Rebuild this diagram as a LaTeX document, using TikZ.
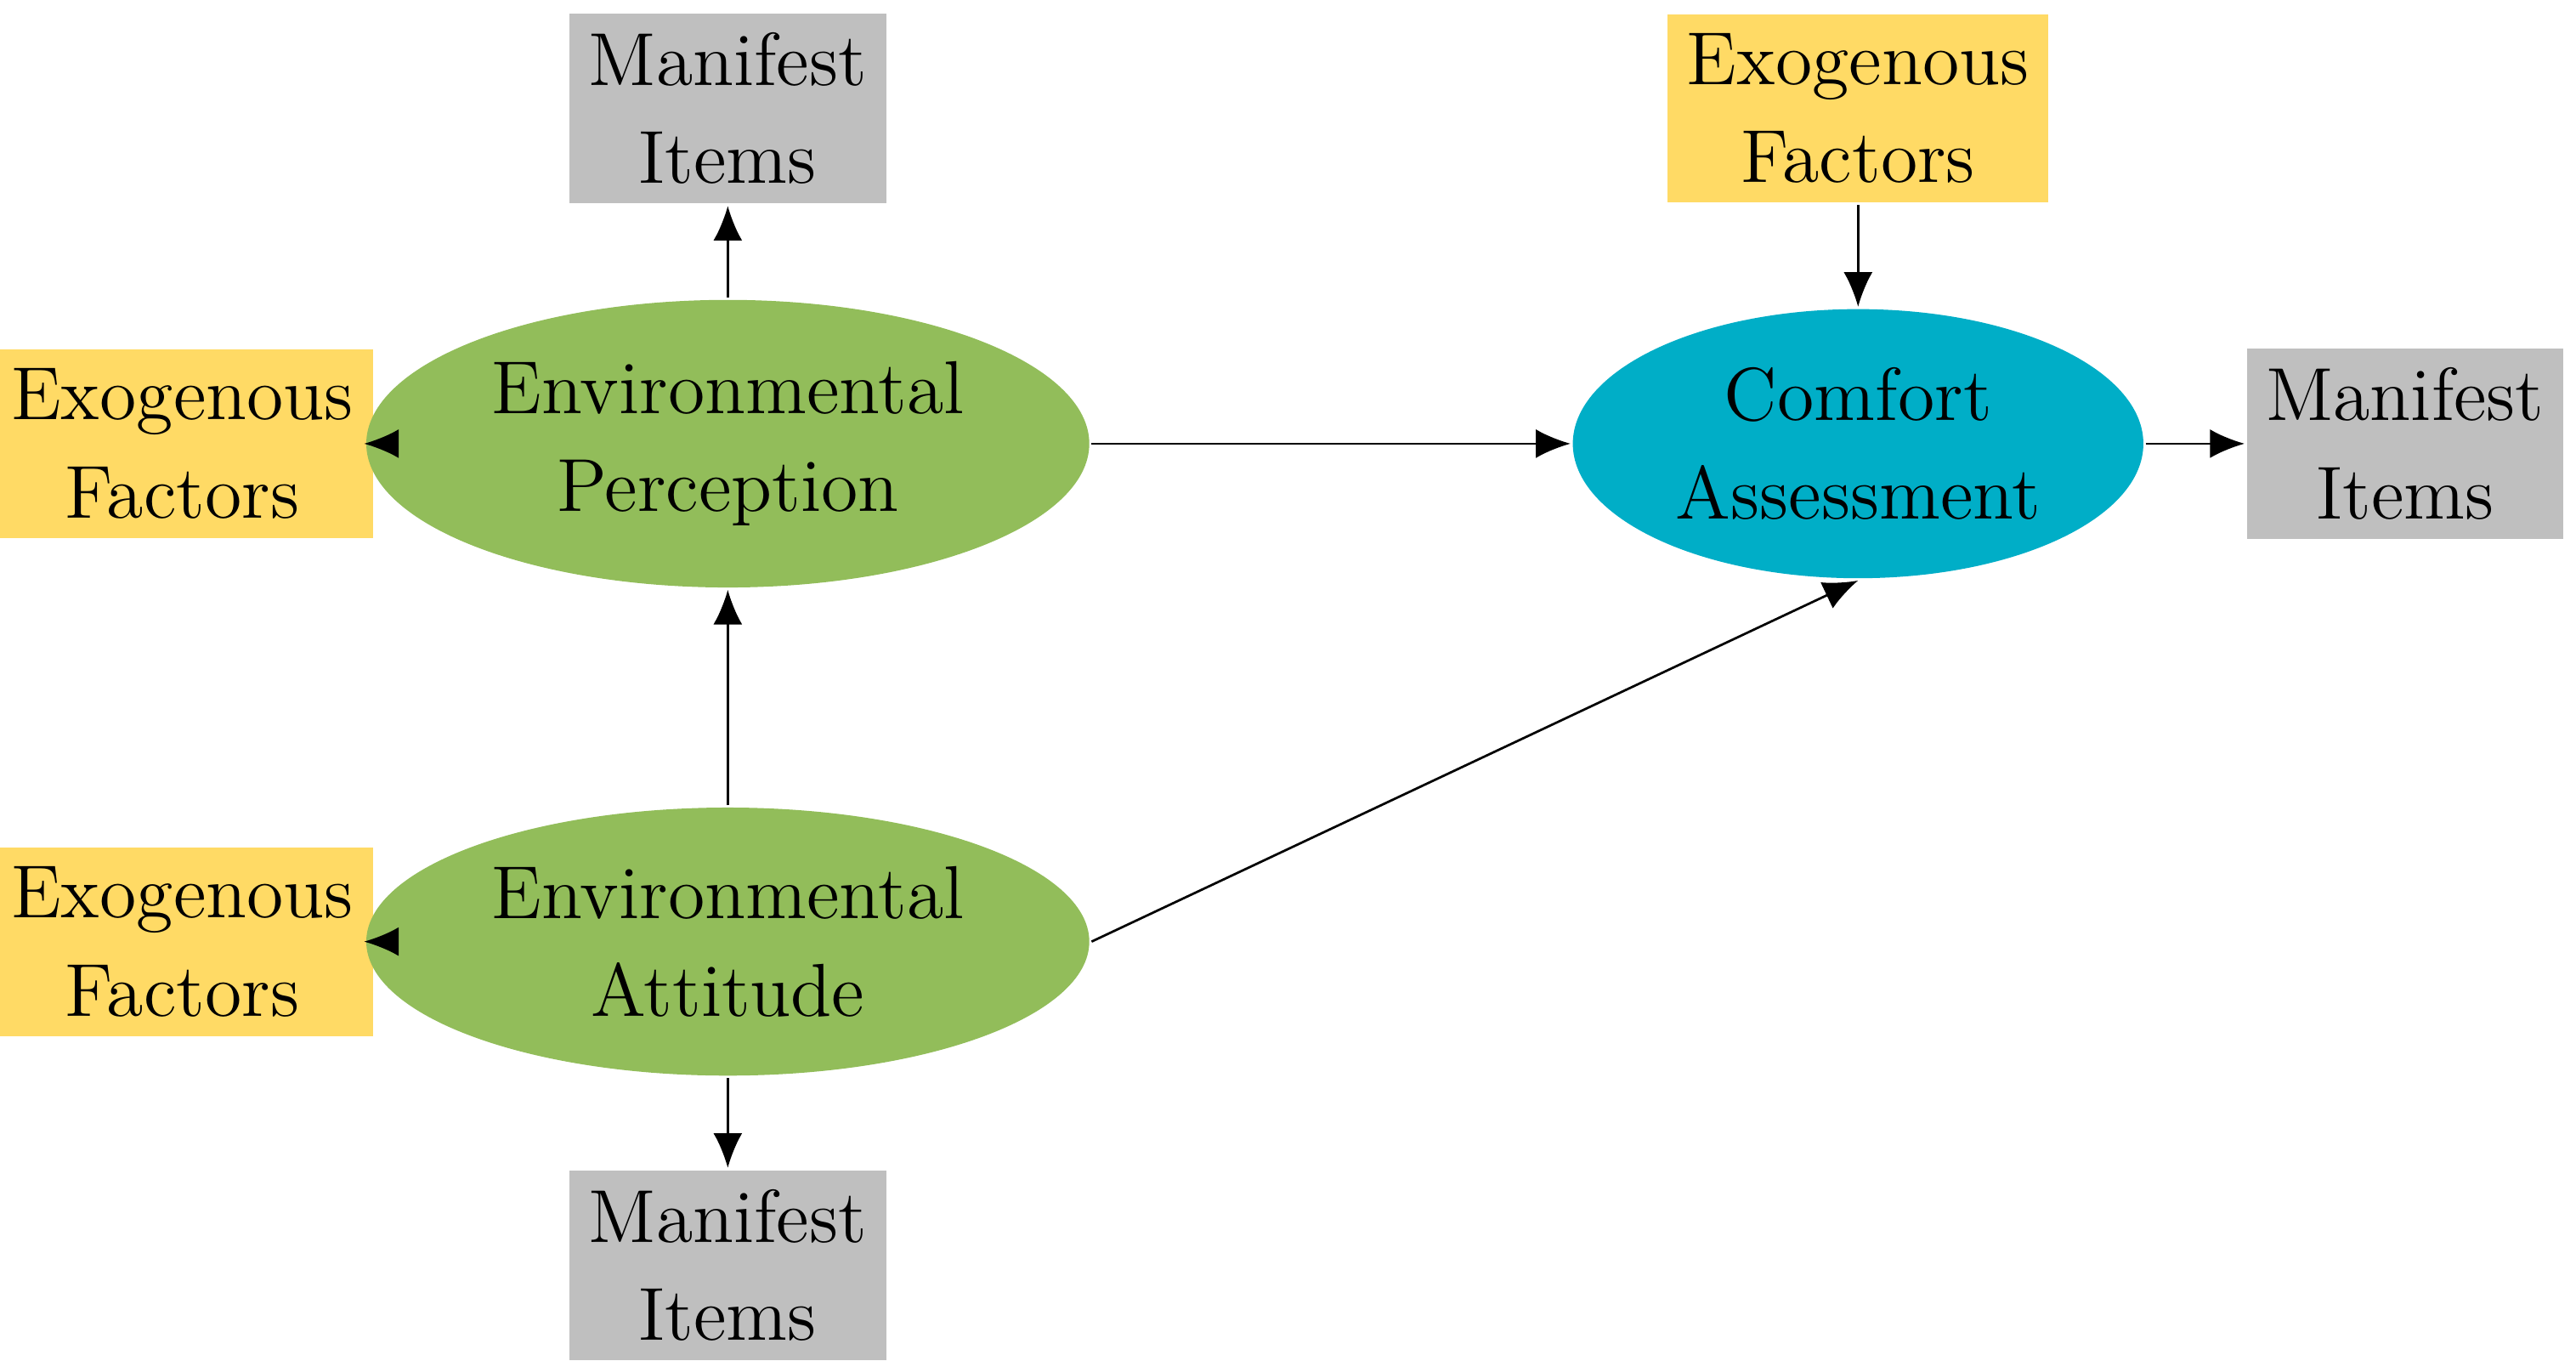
\documentclass[tikz,border=0pt]{standalone}
\usetikzlibrary{shapes.geometric,arrows.meta}
\begin{document}
\begin{tikzpicture}[-{Latex[length=6pt,width=5pt]},thick,
	item node/.style={rectangle,fill=gray!50,minimum width=1.84cm,minimum height=0.84cm,align=center,font=\fontsize{13}{17}\selectfont},
	exo node/.style={rectangle,fill=exoyellow,minimum width=1.83cm,minimum height=0.84cm,align=center,font=\fontsize{13}{17}\selectfont},
	latent node/.style={ellipse,minimum width=3.1cm,minimum height=1.55cm,align=center,font=\fontsize{13}{17}\selectfont}]
	\definecolor{exoyellow}{HTML}{FFDA65}
	\definecolor{latgreen}{HTML}{92BD5A}
	\definecolor{latcyan}{HTML}{00AEC7}
	\useasboundingbox (0,0) rectangle (15.68,8.28);

	\node[item node] (mtop) at (4.43,7.62) {Manifest\\Items};
	\node[exo node] (exotr) at (11.31,7.62) {Exogenous\\Factors};
	\node[exo node] (exo1) at (1.11,5.58) {Exogenous\\Factors};
	\node[latent node,fill=latgreen] (perc) at (4.43,5.58) {Environmental\\Perception};
	\node[latent node,fill=latcyan] (comf) at (11.31,5.58) {Comfort\\Assessment};
	\node[item node] (mright) at (14.64,5.58) {Manifest\\Items};
	\node[exo node] (exo2) at (1.11,2.55) {Exogenous\\Factors};
	\node[latent node,fill=latgreen] (att) at (4.43,2.55) {Environmental\\Attitude};
	\node[item node] (mbot) at (4.43,0.58) {Manifest\\Items};

	\path[thin]
		(perc) edge (mtop)
		(exo1) edge (perc)
		(perc) edge (comf)
		(exotr) edge (comf)
		(comf) edge (mright)
		(exo2) edge (att)
		(att) edge (perc)
		(att.east) edge (comf.south)
		(att) edge (mbot)
		;
\end{tikzpicture}
\end{document}
